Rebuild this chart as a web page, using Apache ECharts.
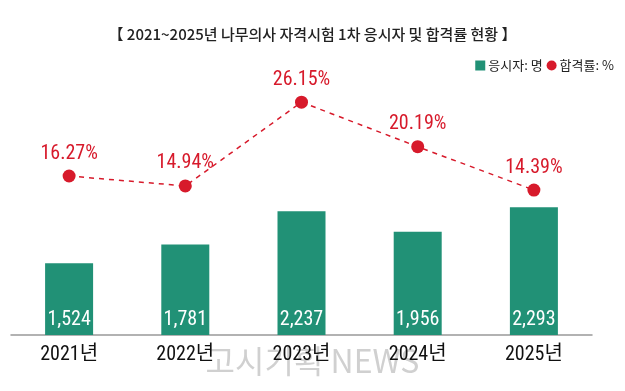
<!DOCTYPE html>
<html>
<head>
<meta charset="utf-8">
<script src="https://cdn.jsdelivr.net/npm/echarts@6/dist/echarts.min.js"></script>
<style>
  html, body { margin: 0; padding: 0; background: #fff; }
  #chart { width: 625px; height: 391px; }
</style>
</head>
<body>
<div id="chart"></div>
<script>
const titleText = '【 2021~2025년 나무의사 자격시험 1차 응시자 및 합격률 현황 】';
const categories = ['2021년', '2022년', '2023년', '2024년', '2025년'];
const applicants = [1524, 1781, 2237, 1956, 2293];
const passRates = [16.27, 14.94, 26.15, 20.19, 14.39];
const barName = '응시자: 명';
const lineName = '합격률: %';
const watermark = '고시기획 NEWS';

const FONT = '"Liberation Sans Narrow", "Roboto Condensed", "DejaVu Sans Condensed", "Noto Sans CJK KR", sans-serif';
const KFONT = '"Noto Sans CJK KR", sans-serif';
const GREEN = '#219176';
const RED = '#d71a2b';

const chart = echarts.init(document.getElementById('chart'));
chart.setOption({
  animation: false,
  backgroundColor: '#fff',
  title: {
    text: titleText,
    left: 'center',
    top: 22,
    textStyle: { fontFamily: KFONT, fontSize: 15, fontWeight: 500, color: '#222' }
  },
  legend: {
    right: 6,
    top: 54,
    itemWidth: 10,
    itemHeight: 10,
    itemGap: 4,
    textStyle: { fontFamily: KFONT, fontSize: 13, color: '#222', padding: [0, 0, 0, -2] },
    data: [
      { name: barName, icon: 'rect' },
      { name: lineName, icon: 'circle' }
    ]
  },
  graphic: [{
    type: 'text',
    left: 'center',
    top: 345,
    z: -1,
    style: {
      text: watermark,
      fontFamily: KFONT,
      fontSize: 32,
      fill: '#d0d0d0'
    }
  }],
  grid: { left: 11, right: 33, top: 36, bottom: 56, containLabel: false },
  xAxis: {
    type: 'category',
    data: categories,
    axisTick: { show: false },
    axisLine: { onZero: false, lineStyle: { color: '#999', width: 1.5 } },
    axisLabel: { fontFamily: FONT, fontSize: 20, color: '#111', margin: 10 }
  },
  yAxis: [
    { type: 'value', min: 540, max: 4640, show: false, splitLine: { show: false } },
    { type: 'value', min: -5, max: 35, show: false, splitLine: { show: false } }
  ],
  series: [
    {
      name: barName,
      type: 'bar',
      data: applicants,
      barWidth: 48,
      itemStyle: { color: GREEN },
      label: {
        show: true,
        position: 'insideBottom',
        distance: 5,
        color: '#fff',
        fontFamily: FONT,
        fontSize: 20,
        formatter: p => p.value.toLocaleString('en-US')
      }
    },
    {
      name: lineName,
      type: 'line',
      yAxisIndex: 1,
      data: passRates,
      symbol: 'circle',
      symbolSize: 13,
      itemStyle: { color: RED },
      lineStyle: { color: RED, width: 1.5, type: [5, 5] },
      label: {
        show: true,
        position: 'top',
        distance: 6,
        color: RED,
        fontFamily: FONT,
        fontSize: 20,
        formatter: p => p.value.toFixed(2) + '%'
      }
    }
  ]
});
</script>
</body>
</html>
